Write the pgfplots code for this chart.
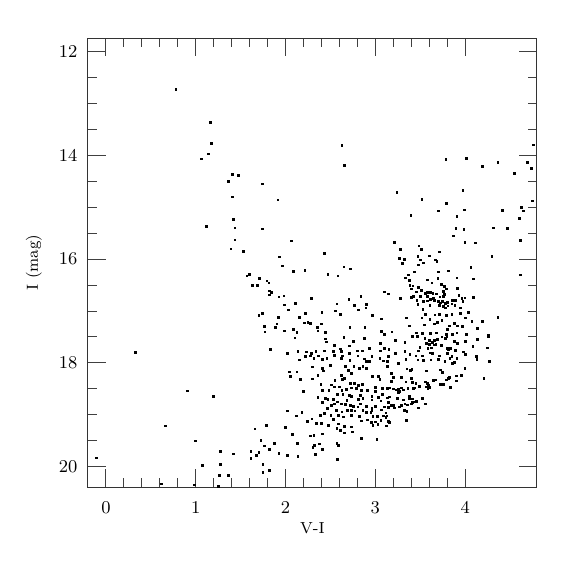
\documentclass[border=0pt]{standalone}
\usepackage{pgfplots}
\pgfplotsset{compat=1.18}
\usetikzlibrary{calc}
\begin{document}
\begin{tikzpicture}
\begin{axis}[
  name=ax,
  scale only axis,
  width=224.5pt, height=224.5pt,
  xmin=-0.2, xmax=4.8,
  ymin=11.74, ymax=20.39,
  y dir=reverse,
  xtick={0,1,2,3,4},
  ytick={12,14,16,18,20},
  minor x tick num=4,
  minor y tick num=3,
  tick align=inside,
  major tick length=9pt,
  minor tick length=4.5pt,
  xtick pos=both, ytick pos=both,
  axis line style={line width=0.5pt, black!80},
  every tick/.style={line width=0.5pt, black!75},
  tick label style={font=\fontsize{9.5}{11}\selectfont},
  xticklabel style={yshift=-3.8pt},
  yticklabel style={xshift=-1.8pt},
  xlabel={V-I},
  ylabel={I (mag)},
  label style={font=\fontsize{8}{10}\selectfont},
  xlabel style={at={(axis description cs:0.5,-0.0913)}, anchor=center},
  ylabel style={at={(axis description cs:-0.1203,0.5)}, anchor=center},
  clip=true,
]
\addplot[only marks, mark=square*, mark size=0.42pt, black] table {
x y
0.778 12.735
1.160 13.37
1.171 13.77
1.144 13.97
1.060 14.07
1.408 14.37
1.367 14.50
2.627 13.81
2.652 14.19
1.474 14.39
1.744 14.55
4.760 13.80
3.786 14.08
4.011 14.06
4.189 14.22
4.363 14.13
4.697 14.14
4.738 14.25
4.549 14.35
1.408 14.80
1.422 15.24
1.116 15.37
1.437 15.40
1.437 15.63
1.393 15.80
1.916 14.86
1.741 15.42
2.067 15.65
1.527 15.85
2.433 15.89
1.930 15.96
1.967 16.13
2.649 16.15
2.722 16.19
2.089 16.23
2.216 16.22
1.600 16.29
1.571 16.32
2.471 16.30
2.582 16.32
1.711 16.37
1.793 16.42
1.816 16.46
1.630 16.51
1.689 16.51
1.819 16.61
1.844 16.64
1.819 16.69
1.927 16.73
1.982 16.71
2.286 16.75
3.097 16.63
2.704 16.77
2.838 16.72
2.111 16.85
1.989 16.88
2.571 16.86
2.763 16.89
2.904 16.87
2.893 16.94
2.811 16.98
2.033 16.98
2.556 17.00
1.741 17.04
1.704 17.09
2.219 17.05
2.404 17.02
2.608 17.07
2.967 17.08
2.152 17.12
1.919 17.12
3.071 17.15
2.208 17.23
2.249 17.22
2.274 17.24
1.904 17.25
2.397 17.25
1.763 17.30
1.886 17.32
2.352 17.31
2.716 17.32
2.882 17.32
2.089 17.36
1.771 17.40
1.986 17.38
2.127 17.41
2.360 17.38
2.441 17.41
3.064 17.39
3.104 17.45
3.241 14.715
3.974 14.676
3.519 14.850
3.789 14.927
4.752 14.876
4.630 15.004
4.645 15.068
3.700 15.068
3.989 15.049
4.415 15.062
3.397 15.152
3.908 15.171
4.604 15.216
3.897 15.409
3.986 15.422
4.311 15.396
4.471 15.409
3.867 15.551
4.619 15.641
3.215 15.673
3.997 15.679
4.115 15.686
3.486 15.744
3.282 15.814
3.515 15.814
3.715 15.859
3.604 15.936
3.474 15.949
4.297 15.949
3.271 15.981
3.323 16.001
3.500 16.014
3.667 16.014
3.686 16.046
3.537 16.071
3.304 16.078
3.478 16.110
4.063 16.161
3.811 16.226
3.704 16.245
3.437 16.245
4.615 16.303
3.367 16.303
3.337 16.361
3.908 16.361
4.093 16.380
3.697 16.367
3.382 16.406
3.582 16.399
3.630 16.457
3.734 16.489
3.386 16.509
3.419 16.515
3.478 16.541
3.771 16.528
3.789 16.573
3.911 16.560
3.400 16.573
3.515 16.605
3.460 16.631
3.612 16.644
3.560 16.656
3.582 16.644
3.641 16.656
3.682 16.669
3.756 16.618
3.771 16.676
3.145 16.669
3.423 16.714
3.404 16.740
3.500 16.721
3.582 16.714
3.649 16.759
3.719 16.727
3.756 16.714
3.930 16.701
3.963 16.753
3.997 16.746
4.089 16.740
3.282 16.759
3.463 16.798
3.534 16.811
3.582 16.804
3.615 16.779
3.660 16.798
3.700 16.817
3.723 16.843
3.749 16.817
3.778 16.856
3.804 16.830
3.856 16.798
3.893 16.791
3.852 16.862
3.974 16.811
3.474 16.875
3.608 16.888
3.715 16.888
3.756 16.914
3.808 16.901
3.886 16.888
3.530 16.971
3.778 16.939
3.945 16.939
3.560 17.068
3.663 17.074
3.715 17.068
3.789 17.081
3.852 17.061
3.949 17.042
4.034 17.029
3.349 17.132
3.519 17.132
3.608 17.158
4.000 17.132
3.741 17.184
3.693 17.216
3.878 17.235
4.193 17.203
4.074 17.203
4.363 17.126
3.549 17.267
3.656 17.248
3.911 17.286
3.971 17.293
4.134 17.331
3.378 17.286
3.823 17.286
3.186 17.402
3.456 17.421
3.526 17.434
3.612 17.428
3.682 17.421
3.793 17.454
3.860 17.447
3.908 17.421
4.015 17.454
4.260 17.467
3.804 17.357
0.330 17.80
0.908 18.54
1.193 18.65
0.663 19.21
0.993 19.50
1.271 19.70
1.416 19.75
-0.107 19.83
1.071 19.97
1.271 19.95
1.260 20.17
1.367 20.17
0.615 20.33
0.986 20.35
1.249 20.38
2.104 17.518
2.445 17.537
2.648 17.511
2.756 17.582
2.878 17.531
2.452 17.595
3.060 17.621
1.834 17.736
2.023 17.814
2.137 17.775
2.234 17.788
2.286 17.814
2.337 17.781
2.430 17.769
2.541 17.659
2.534 17.781
2.611 17.730
2.619 17.781
2.711 17.672
2.708 17.814
2.800 17.769
2.852 17.769
2.930 17.724
3.056 17.769
3.104 17.717
2.156 17.942
2.219 17.878
2.274 17.865
2.315 17.916
2.363 17.865
2.411 17.929
2.460 17.910
2.541 17.859
2.619 17.916
2.630 17.865
2.715 17.955
2.804 17.865
2.878 17.923
2.904 17.974
2.934 17.974
2.963 17.871
2.860 18.064
3.049 17.916
3.089 17.961
2.297 18.077
2.497 18.045
2.408 18.109
2.419 18.154
2.667 18.071
2.700 18.141
2.760 18.064
2.823 18.103
2.897 18.103
2.045 18.174
2.126 18.174
2.052 18.264
2.167 18.321
2.300 18.309
2.360 18.244
2.619 18.244
2.656 18.296
2.730 18.206
2.967 18.257
3.037 18.257
3.052 18.315
2.549 18.334
2.634 18.315
2.393 18.418
2.508 18.424
2.541 18.463
2.597 18.463
2.719 18.399
2.767 18.399
2.811 18.431
2.856 18.418
2.845 18.527
2.197 18.547
2.411 18.527
2.482 18.527
2.626 18.527
2.678 18.514
2.734 18.482
2.786 18.489
2.908 18.527
2.997 18.476
3.004 18.553
3.078 18.489
2.578 18.611
2.637 18.611
2.711 18.624
2.737 18.649
2.837 18.624
2.963 18.649
3.037 18.662
3.082 18.604
2.360 18.669
2.445 18.682
2.471 18.701
2.534 18.701
2.574 18.752
2.408 18.759
2.682 18.720
2.811 18.707
2.860 18.688
2.837 18.791
2.963 18.714
3.063 18.733
2.511 18.823
2.541 18.791
2.619 18.791
2.663 18.804
2.463 18.874
2.719 18.823
2.756 18.836
2.804 18.849
2.897 18.842
2.963 18.874
3.000 18.836
3.097 18.849
2.563 18.919
2.626 18.945
2.686 18.913
2.734 18.919
2.774 18.926
2.863 18.919
2.960 18.913
3.067 18.907
2.019 18.926
2.182 18.958
2.123 19.022
2.293 19.080
2.386 19.016
2.430 18.971
2.504 19.009
2.589 19.009
2.641 19.041
2.734 19.016
2.819 19.029
2.900 18.958
2.952 18.958
2.974 19.035
3.026 19.029
3.086 19.022
2.241 19.132
2.534 19.093
2.341 19.164
2.397 19.170
2.589 19.176
2.848 19.119
2.915 19.099
2.956 19.144
3.000 19.138
3.063 19.112
2.974 19.202
3.030 19.183
2.474 19.209
2.652 19.228
2.571 19.260
2.730 19.234
1.789 19.209
1.660 19.273
1.997 19.241
2.611 19.299
2.745 19.331
2.656 19.350
2.074 19.376
2.408 19.369
2.315 19.402
2.274 19.408
2.848 19.453
3.019 19.479
1.726 19.498
2.130 19.549
1.874 19.556
1.763 19.601
2.374 19.562
2.323 19.594
2.571 19.556
2.586 19.594
2.304 19.633
1.819 19.659
2.411 19.672
1.615 19.710
1.704 19.717
1.926 19.736
1.674 19.787
1.615 19.839
2.019 19.781
2.137 19.794
2.330 19.768
2.578 19.864
1.748 19.948
1.823 20.070
1.748 20.109
3.415 17.492
3.467 17.492
3.223 17.569
3.330 17.608
3.552 17.531
3.600 17.569
3.660 17.563
3.693 17.544
3.741 17.499
3.797 17.499
3.782 17.531
3.878 17.589
3.915 17.621
4.000 17.589
4.137 17.550
4.256 17.492
3.567 17.621
3.604 17.640
3.634 17.608
3.675 17.640
3.497 17.698
3.586 17.717
3.623 17.711
3.652 17.653
3.737 17.666
3.800 17.717
3.815 17.736
3.834 17.724
3.889 17.756
3.982 17.788
4.086 17.679
4.245 17.711
3.152 17.743
3.223 17.820
3.330 17.781
3.386 17.839
3.482 17.769
3.452 17.865
3.526 17.865
3.608 17.807
3.637 17.820
3.715 17.865
3.804 17.814
3.852 17.878
3.145 17.878
4.000 17.833
4.126 17.878
4.130 17.929
4.267 17.968
3.134 17.974
3.341 17.929
3.474 17.942
3.534 17.955
3.619 17.942
3.704 17.929
3.774 17.968
3.830 17.916
3.908 17.916
3.137 18.071
3.256 18.013
3.352 18.116
3.389 18.141
3.408 18.129
3.567 18.154
3.723 18.135
3.745 18.186
3.856 18.006
3.878 17.994
3.997 18.109
3.182 18.199
3.200 18.283
3.178 18.354
3.289 18.283
3.404 18.302
3.341 18.366
3.415 18.379
3.452 18.399
3.489 18.456
3.556 18.366
3.582 18.399
3.593 18.431
3.645 18.334
3.675 18.328
3.723 18.411
3.756 18.411
3.789 18.328
3.811 18.302
3.823 18.277
3.904 18.251
3.956 18.238
3.900 18.347
3.837 18.476
4.208 18.302
3.137 18.495
3.160 18.482
3.200 18.502
3.234 18.521
3.260 18.514
3.289 18.482
3.311 18.521
3.363 18.495
3.260 18.572
3.271 18.553
3.426 18.495
3.441 18.482
3.563 18.463
3.586 18.495
3.604 18.476
3.134 18.675
3.156 18.656
3.145 18.765
3.182 18.823
3.200 18.817
3.149 18.855
3.215 18.868
3.267 18.849
3.289 18.817
3.330 18.791
3.360 18.810
3.378 18.636
3.378 18.688
3.411 18.694
3.415 18.765
3.404 18.791
3.437 18.752
3.456 18.746
3.482 18.868
3.526 18.688
3.556 18.791
3.249 18.688
3.311 18.714
3.326 18.913
3.352 18.932
3.119 18.964
3.130 19.022
3.119 19.048
3.145 19.125
3.156 19.144
3.126 19.215
3.345 19.112
};
\end{axis}
\pgfresetboundingbox
\path ($(ax.south west)+(-44pt,-44pt)$) rectangle ($(ax.north east)+(19pt,19pt)$);
\end{tikzpicture}
\end{document}
